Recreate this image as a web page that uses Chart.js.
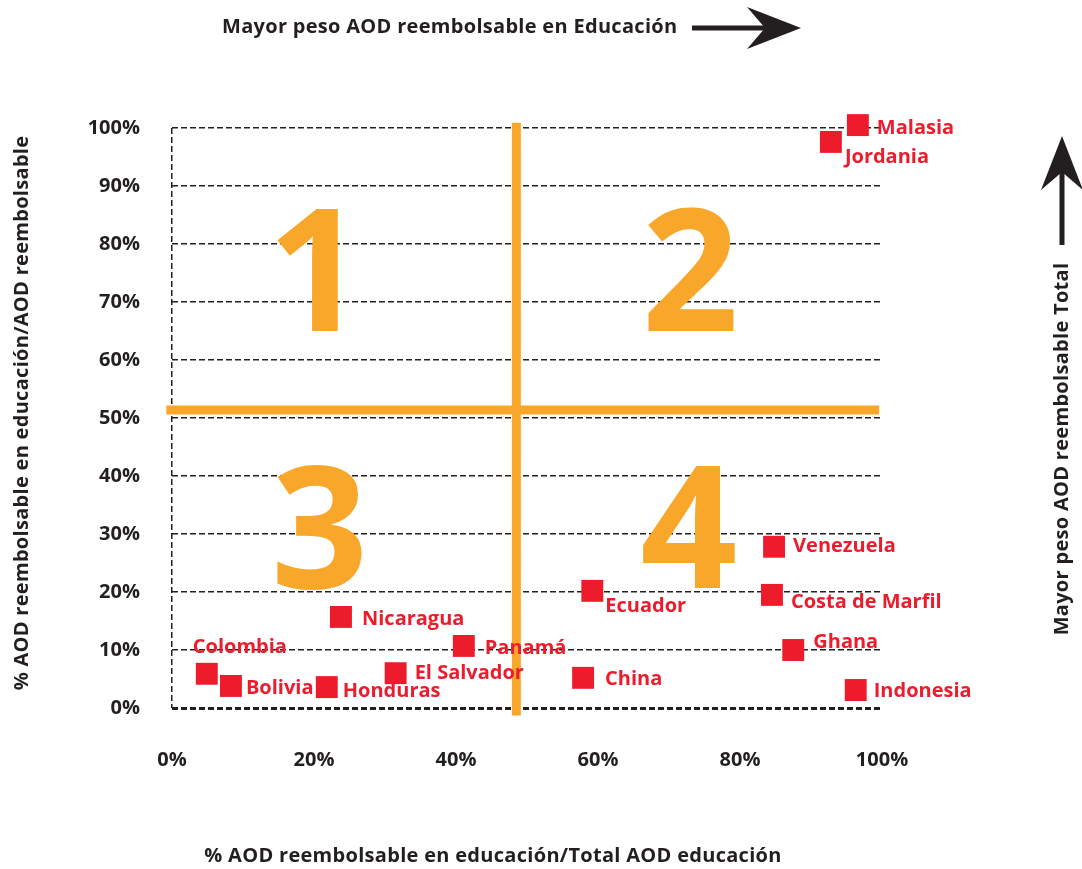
<!DOCTYPE html>
<html>
<head>
<meta charset="utf-8">
<script src="https://cdn.jsdelivr.net/npm/chart.js@4/dist/chart.umd.min.js"></script>
<style>
  body { margin: 0; background: #fff; }
  #wrap { width: 1082px; height: 869px; }
</style>
</head>
<body>
<div id="wrap"><canvas id="quadChart"></canvas></div>
<script>
// countries, x = % AOD reembolsable en educación / total AOD educación,
// y = % AOD reembolsable en educación / AOD reembolsable
const countries = ["Malasia", "Jordania", "Colombia", "Bolivia", "Honduras", "El Salvador", "Nicaragua",
  "Panamá", "Ecuador", "China", "Costa de Marfil", "Ghana", "Indonesia", "Venezuela"];
const eduShare = [96.6, 92.8, 4.9, 8.3, 21.8, 31.5, 23.8, 41.1, 59.2, 57.9, 84.5, 87.5, 96.3, 84.8];
const totalShare = [100.5, 97.6, 5.9, 3.8, 3.6, 6.0, 15.7, 10.7, 20.2, 5.2, 19.5, 10.0, 3.1, 27.8];

const xTicks = [0, 20, 40, 60, 80, 100];
const yTicks = [0, 10, 20, 30, 40, 50, 60, 70, 80, 90, 100];

// quadrant split
const splitX = 48.5;
const splitY = 51.4;
const quadrants = ["1", "2", "3", "4"];
const quadrantX = [20.3, 73.0, 20.8, 72.8];
const quadrantY = [75.9, 75.9, 31.6, 31.6];

const red = "#ec1c2d";
const orange = "#f9a72b";
const ink = "#231f20";
const FONT = "'Open Sans', sans-serif";

// label placement around the marker (pixels)
const labelOffset = {
  "Malasia": [19, 3], "Jordania": [14, 15], "Colombia": [-14, -26], "Bolivia": [15, 2],
  "Honduras": [16, 4], "El Salvador": [19, 0], "Nicaragua": [21, 2], "Panamá": [21, 2],
  "Ecuador": [13, 15], "China": [22, 1], "Costa de Marfil": [19, 7], "Ghana": [20, -8],
  "Indonesia": [18, 1], "Venezuela": [19, 0]
};

function arrowHead(ctx, tipX, tipY, dirX, dirY, len, half, notch) {
  const px = -dirY, py = dirX;
  const bx = tipX - dirX * len, by = tipY - dirY * len;
  const nx = tipX - dirX * (len - notch), ny = tipY - dirY * (len - notch);
  ctx.beginPath();
  ctx.moveTo(tipX, tipY);
  ctx.lineTo(bx + px * half, by + py * half);
  ctx.lineTo(nx, ny);
  ctx.lineTo(bx - px * half, by - py * half);
  ctx.closePath();
  ctx.fill();
}

const decorations = {
  id: "decorations",
  beforeDatasetsDraw(chart) {
    const { ctx } = chart;
    const xs = chart.scales.x, ys = chart.scales.y;
    ctx.save();
    // big quadrant numbers
    ctx.fillStyle = orange;
    ctx.font = "bold 170px " + FONT;
    ctx.textAlign = "center";
    ctx.textBaseline = "middle";
    quadrants.forEach((q, i) => {
      ctx.fillText(q, xs.getPixelForValue(quadrantX[i]), ys.getPixelForValue(quadrantY[i]) + 15);
    });
    // divider lines
    ctx.strokeStyle = orange;
    ctx.lineWidth = 9;
    const vx = xs.getPixelForValue(splitX);
    const hy = ys.getPixelForValue(splitY);
    ctx.beginPath();
    ctx.moveTo(vx, ys.getPixelForValue(100.9));
    ctx.lineTo(vx, ys.getPixelForValue(-1.3));
    ctx.moveTo(xs.getPixelForValue(-0.8), hy);
    ctx.lineTo(xs.getPixelForValue(99.6), hy);
    ctx.stroke();
    ctx.restore();
  },
  afterDatasetsDraw(chart) {
    const { ctx } = chart;
    const meta = chart.getDatasetMeta(0);
    ctx.save();
    ctx.fillStyle = red;
    ctx.font = "bold 20px " + FONT;
    ctx.textAlign = "left";
    ctx.textBaseline = "middle";
    meta.data.forEach((pt, i) => {
      const off = labelOffset[countries[i]] || [18, 0];
      ctx.fillText(countries[i], pt.x + off[0], pt.y + off[1]);
    });

    // axis titles and arrows
    ctx.fillStyle = ink;
    ctx.font = "bold 20px " + FONT;
    ctx.letterSpacing = "0.3px";
    ctx.textAlign = "left";
    ctx.fillText("Mayor peso AOD reembolsable en Educación", 222, 27);
    ctx.textAlign = "center";
    ctx.fillText("% AOD reembolsable en educación/Total AOD educación", 493, 856);

    ctx.save();
    ctx.translate(22, 413);
    ctx.rotate(-Math.PI / 2);
    ctx.fillText("% AOD reembolsable en educación/AOD reembolsable", 0, 0);
    ctx.restore();

    ctx.save();
    ctx.translate(1062, 449);
    ctx.rotate(-Math.PI / 2);
    ctx.fillText("Mayor peso AOD reembolsable Total", 0, 0);
    ctx.restore();

    ctx.strokeStyle = ink;
    ctx.lineWidth = 5;
    ctx.beginPath();
    ctx.moveTo(692, 28);
    ctx.lineTo(770, 28);
    ctx.moveTo(1062, 245);
    ctx.lineTo(1062, 170);
    ctx.stroke();
    arrowHead(ctx, 801, 28, 1, 0, 54, 21, 18);
    arrowHead(ctx, 1062, 136, 0, -1, 54, 21, 18);
    ctx.restore();
  }
};

new Chart(document.getElementById("quadChart"), {
  type: "scatter",
  data: {
    datasets: [
      {
        label: "Países",
        data: countries.map((c, i) => ({ x: eduShare[i], y: totalShare[i] })),
        backgroundColor: red,
        borderWidth: 0,
        pointStyle: "rect",
        pointRadius: 15.5,
        pointHoverRadius: 15.5,
        clip: false,
      },
    ],
  },
  options: {
    responsive: true,
    maintainAspectRatio: false,
    animation: false,
    layout: { padding: { top: 128, right: 200, bottom: 0, left: 0 } },
    plugins: { legend: { display: false }, tooltip: { enabled: false } },
    scales: {
      x: {
        type: "linear",
        min: 0,
        max: 100,
        afterFit: (s) => { s.height = 161; },
        afterBuildTicks: (s) => { s.ticks = xTicks.map((v) => ({ value: v })); },
        grid: {
          drawTicks: false,
          color: (c) => (c.tick && c.tick.value === 0 ? ink : "transparent"),
          lineWidth: 1.5,
        },
        border: { display: false, dash: [6, 3] },
        ticks: {
          padding: 40,
          color: ink,
          font: { family: FONT, size: 20, weight: "bold" },
          callback: (v) => v + "%",
        },
      },
      y: {
        type: "linear",
        min: 0,
        max: 100,
        afterFit: (s) => { s.width = 172; },
        afterBuildTicks: (s) => { s.ticks = yTicks.map((v) => ({ value: v })); },
        grid: {
          color: ink,
          lineWidth: (c) => (c.tick && c.tick.value === 0 ? 3 : 1.5),
          drawTicks: false,
        },
        border: { display: false, dash: [6, 3] },
        ticks: {
          padding: 32,
          color: ink,
          font: { family: FONT, size: 20, weight: "bold" },
          callback: (v) => v + "%",
        },
      },
    },
  },
  plugins: [decorations],
});
</script>
</body>
</html>
